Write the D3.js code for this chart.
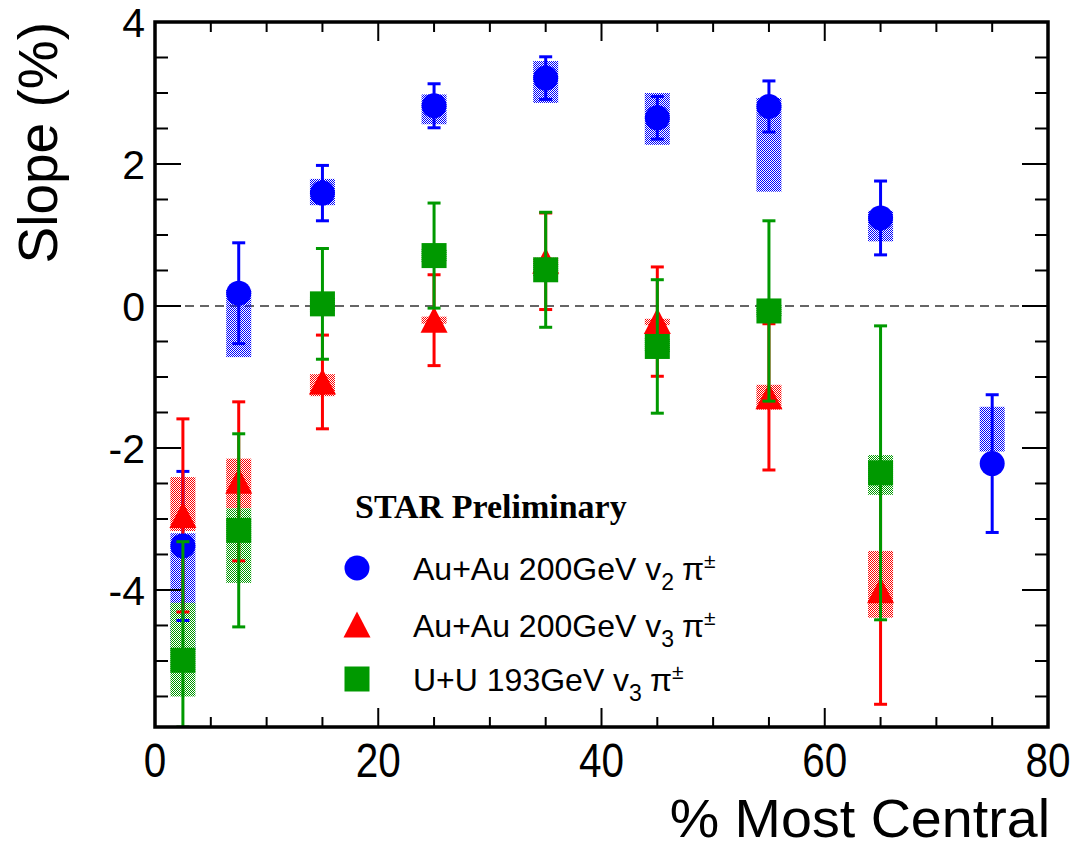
<!DOCTYPE html>
<html>
<head>
<meta charset="utf-8">
<script src="https://cdn.jsdelivr.net/npm/d3@7"></script>
<style>
    body { margin: 0; background: #fff; }
    svg { display: block; }
</style>
</head>
<body>
<div id="chart"></div>
<script>
// centrality bins (% most central)
const centralityV2 = [2.5, 7.5, 15, 25, 35, 45, 55, 65, 75];
const centralityV3 = [2.5, 7.5, 15, 25, 35, 45, 55, 65];

// Au+Au 200GeV v2 pi
const auV2Slope = [-3.38, 0.18, 1.59, 2.82, 3.21, 2.65, 2.81, 1.24, -2.22];
const auV2Stat = [1.05, 0.71, 0.39, 0.31, 0.30, 0.30, 0.36, 0.52, 0.97];
const auV2SysLow = [-4.85, -0.72, 1.42, 2.56, 2.86, 2.27, 1.61, 0.91, -2.05];
const auV2SysHigh = [-3.20, 0.23, 1.79, 2.98, 3.45, 3.00, 2.93, 1.34, -1.42];

// Au+Au 200GeV v3 pi
const auV3Slope = [-2.95, -2.47, -1.07, -0.20, 0.63, -0.22, -1.28, -4.01];
const auV3Stat = [1.36, 1.12, 0.66, 0.64, 0.68, 0.77, 1.03, 1.60];
const auV3SysLow = [-3.17, -2.85, -1.27, -0.25, 0.58, -0.27, -1.46, -4.39];
const auV3SysHigh = [-2.41, -2.15, -0.96, -0.15, 0.68, -0.18, -1.11, -3.45];

// U+U 193GeV v3 pi
const uuV3Slope = [-4.99, -3.16, 0.03, 0.71, 0.51, -0.57, -0.07, -2.35];
const uuV3Stat = [1.67, 1.36, 0.78, 0.74, 0.81, 0.94, 1.27, 2.07];
const uuV3SysLow = [-5.50, -3.90, -0.08, 0.62, 0.42, -0.65, -0.15, -2.66];
const uuV3SysHigh = [-4.18, -2.85, 0.12, 0.80, 0.60, -0.45, 0.02, -2.10];

const legendLabels = ['Au+Au 200GeV v', 'Au+Au 200GeV v', 'U+U 193GeV v'];
const legendSubs = ['2', '3', '3'];

const xTicks = [0, 20, 40, 60, 80];
const yTicks = [-4, -2, 0, 2, 4];

const width = 1075;
const height = 848;
const frame = {left: 155, right: 1048, top: 22, bottom: 727};
const sansFont = '"Liberation Sans", Arial, Helvetica, sans-serif';

const x = d3.scaleLinear().domain([0, 80]).range([frame.left, frame.right]);
const y = d3.scaleLinear().domain([-5.93, 4]).range([frame.bottom, frame.top]);

function makeSeries(cent, slope, stat, sysLow, sysHigh) {
    return cent.map((c, i) => ({
        c: c, v: slope[i], err: stat[i], lo: sysLow[i], hi: sysHigh[i]
    }));
}

const series = [
    {key: 'blue', color: '#0000ff', shape: 'circle',
        data: makeSeries(centralityV2, auV2Slope, auV2Stat, auV2SysLow, auV2SysHigh)},
    {key: 'red', color: '#ff0000', shape: 'triangle',
        data: makeSeries(centralityV3, auV3Slope, auV3Stat, auV3SysLow, auV3SysHigh)},
    {key: 'green', color: '#009900', shape: 'square',
        data: makeSeries(centralityV3, uuV3Slope, uuV3Stat, uuV3SysLow, uuV3SysHigh)}
];

const svg = d3.select('#chart').append('svg')
    .attr('width', width)
    .attr('height', height);

svg.append('rect')
    .attr('width', width)
    .attr('height', height)
    .attr('fill', '#fff');

// checkered fill for systematic boxes
let defs = svg.append('defs');
series.forEach(s => {
    let pat = defs.append('pattern')
        .attr('id', `check-${s.key}`)
        .attr('patternUnits', 'userSpaceOnUse')
        .attr('width', 2)
        .attr('height', 2);
    pat.append('rect').attr('x', 0).attr('y', 0).attr('width', 1).attr('height', 1).attr('fill', s.color);
    pat.append('rect').attr('x', 1).attr('y', 1).attr('width', 1).attr('height', 1).attr('fill', s.color);
});
defs.append('clipPath')
    .attr('id', 'frame-clip')
    .append('rect')
    .attr('x', frame.left)
    .attr('y', frame.top)
    .attr('width', frame.right - frame.left)
    .attr('height', frame.bottom - frame.top);

const plot = svg.append('g').attr('clip-path', 'url(#frame-clip)');

// zero line
plot.append('line')
    .attr('x1', frame.left)
    .attr('x2', frame.right)
    .attr('y1', y(0))
    .attr('y2', y(0))
    .attr('stroke', '#333')
    .attr('stroke-width', 1.6)
    .attr('stroke-dasharray', '9,6');

const markerSize = 25;
const halfBox = 12.5;
const capHalf = 6.5;

function drawMarker(g, shape, color, cx, cy) {
    if (shape === 'circle') {
        g.append('circle')
            .attr('cx', cx).attr('cy', cy).attr('r', markerSize / 2)
            .attr('fill', color);
    } else if (shape === 'square') {
        g.append('rect')
            .attr('x', cx - markerSize / 2).attr('y', cy - markerSize / 2)
            .attr('width', markerSize).attr('height', markerSize)
            .attr('fill', color);
    } else {
        let h = markerSize / 2;
        g.append('path')
            .attr('d', `M${cx},${cy - h - 1}L${cx + h + 1},${cy + h}L${cx - h - 1},${cy + h}Z`)
            .attr('fill', color);
    }
}

function drawBoxes(s) {
    plot.append('g').selectAll('rect')
        .data(s.data)
        .join('rect')
        .attr('x', d => x(d.c) - halfBox)
        .attr('width', halfBox * 2)
        .attr('y', d => y(d.hi))
        .attr('height', d => y(d.lo) - y(d.hi))
        .attr('fill', `url(#check-${s.key})`);
}

function drawErrors(s) {
    let g = plot.append('g')
        .attr('stroke', s.color)
        .attr('stroke-width', 3);
    let [yMin, yMax] = y.domain();
    s.data.forEach(d => {
        let top = Math.min(d.v + d.err, yMax);
        let bot = Math.max(d.v - d.err, yMin);
        let cx = x(d.c);
        g.append('line').attr('x1', cx).attr('x2', cx).attr('y1', y(top)).attr('y2', y(bot));
        g.append('line').attr('x1', cx - capHalf).attr('x2', cx + capHalf).attr('y1', y(top)).attr('y2', y(top));
        g.append('line').attr('x1', cx - capHalf).attr('x2', cx + capHalf).attr('y1', y(bot)).attr('y2', y(bot));
    });
}

function drawMarkers(s) {
    let g = plot.append('g');
    s.data.forEach(d => drawMarker(g, s.shape, s.color, x(d.c), y(d.v)));
}

const [blue, red, green] = series;
series.forEach(drawBoxes);
drawErrors(blue);
drawErrors(red);
drawMarkers(red);
drawMarkers(blue);
drawErrors(green);
drawMarkers(green);

// frame + ticks (inside, on all four sides)
let axes = svg.append('g').attr('stroke', '#000');
const majorLen = 26, minorLen = 13;
const xMajorLen = 19, xMinorLen = 10;

let yMinor = d3.range(-5.5, 4.01, 0.5);
yMinor.forEach(v => {
    let len = yTicks.includes(v) ? majorLen : minorLen;
    axes.append('line').attr('x1', frame.left).attr('x2', frame.left + len)
        .attr('y1', y(v)).attr('y2', y(v)).attr('stroke-width', 2);
    axes.append('line').attr('x1', frame.right).attr('x2', frame.right - len)
        .attr('y1', y(v)).attr('y2', y(v)).attr('stroke-width', 2);
});

let xMinor = d3.range(0, 80.1, 5);
xMinor.forEach(v => {
    let len = xTicks.includes(v) ? xMajorLen : xMinorLen;
    axes.append('line').attr('x1', x(v)).attr('x2', x(v))
        .attr('y1', frame.bottom).attr('y2', frame.bottom - len).attr('stroke-width', 2);
    axes.append('line').attr('x1', x(v)).attr('x2', x(v))
        .attr('y1', frame.top).attr('y2', frame.top + len).attr('stroke-width', 2);
});

axes.append('rect')
    .attr('x', frame.left)
    .attr('y', frame.top)
    .attr('width', frame.right - frame.left)
    .attr('height', frame.bottom - frame.top)
    .attr('fill', 'none')
    .attr('stroke-width', 3.5);

// tick labels
svg.append('g').selectAll('text')
    .data(yTicks)
    .join('text')
    .attr('x', frame.left - 10)
    .attr('y', d => y(d))
    .attr('dy', '0.36em')
    .attr('text-anchor', 'end')
    .attr('font-family', sansFont)
    .attr('font-size', 41)
    .text(d => d);

// x labels are drawn taller and narrower than the y ones
svg.append('g').selectAll('text')
    .data(xTicks)
    .join('text')
    .attr('transform', d => `translate(${x(d)}, 777) scale(0.92, 1.1)`)
    .attr('text-anchor', 'middle')
    .attr('font-family', sansFont)
    .attr('font-size', 44)
    .text(d => d);

// axis titles
svg.append('text')
    .attr('transform', `translate(57, ${frame.top}) rotate(-90)`)
    .attr('text-anchor', 'end')
    .attr('font-family', sansFont)
    .attr('font-size', 55)
    .text('Slope (%)');

svg.append('text')
    .attr('transform', `translate(${frame.right + 2}, 837) scale(1.05, 1)`)
    .attr('text-anchor', 'end')
    .attr('font-family', sansFont)
    .attr('font-size', 53)
    .text('% Most Central');

// legend
let legend = svg.append('g');
legend.append('text')
    .attr('x', 355)
    .attr('y', 518)
    .attr('font-family', '"Liberation Serif", "Times New Roman", serif')
    .attr('font-weight', 'bold')
    .attr('font-size', 34)
    .text('STAR Preliminary');

const legendY = [568, 625, 679];
series.forEach((s, i) => {
    drawMarker(legend, s.shape, s.color, 357, legendY[i]);
    let t = legend.append('text')
        .attr('x', 413)
        .attr('y', legendY[i] + 12)
        .attr('font-family', sansFont)
        .attr('font-size', 32);
    t.append('tspan').text(legendLabels[i]);
    t.append('tspan').attr('dy', 10).attr('font-size', 23).text(legendSubs[i]);
    t.append('tspan').attr('dy', -10).attr('dx', 8).text('π');
    t.append('tspan').attr('dy', -12).attr('font-size', 21).text('±');
});
</script>
</body>
</html>
